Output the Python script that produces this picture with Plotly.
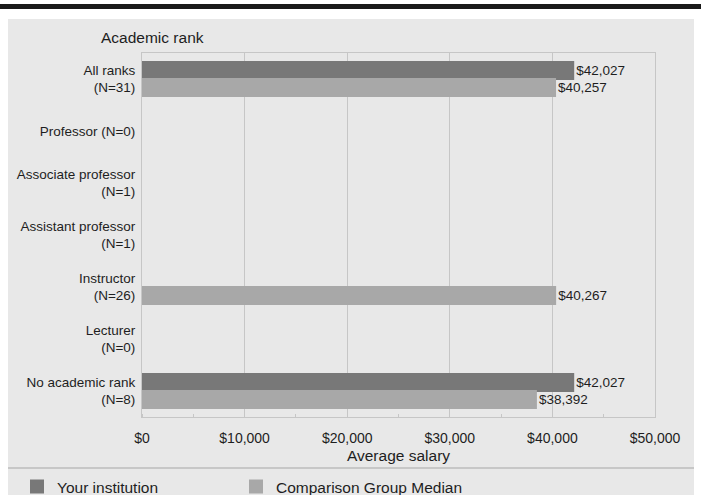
import plotly.graph_objects as go

categories = ["All ranks<br>(N=31)", "Professor (N=0)", "Associate professor<br>(N=1)",
              "Assistant professor<br>(N=1)", "Instructor<br>(N=26)", "Lecturer<br>(N=0)",
              "No academic rank<br>(N=8)"]
your_institution = [42027, None, None, None, None, None, 42027]
comparison_median = [40257, None, None, None, 40267, None, 38392]
x_ticks = [0, 10000, 20000, 30000, 40000, 50000]
x_tick_labels = ["$0", "$10,000", "$20,000", "$30,000", "$40,000", "$50,000"]

W, H = 701, 495
L, R, T, B = 142, 655, 53, 417

def px_x(p):
    return (p - L) / (R - L)

def px_y(p):
    return (B - p) / (B - T)

def fmt(v):
    return "" if v is None else "${:,.0f}".format(v)

BG = "#e8e8e8"
FONT = "Liberation Sans, Arial, sans-serif"
TXT = "#1e1e1e"
DARK = "#787878"
LIGHT = "#a8a8a8"

fig = go.Figure()
fig.add_trace(go.Bar(
    y=categories, x=your_institution, orientation="h", name="Your institution",
    marker=dict(color=DARK, line=dict(width=2, color=DARK)), legend="legend",
    text=[fmt(v) for v in your_institution], textposition="outside",
    textfont=dict(size=13.5, color=TXT), cliponaxis=False))
fig.add_trace(go.Bar(
    y=categories, x=comparison_median, orientation="h", name="Comparison Group Median",
    marker=dict(color=LIGHT, line=dict(width=2, color=LIGHT)), legend="legend2",
    text=[fmt(v) for v in comparison_median], textposition="outside",
    textfont=dict(size=13.5, color=TXT), cliponaxis=False))

shapes = [
    dict(type="rect", xref="paper", yref="paper", layer="below",
         x0=px_x(8), x1=px_x(694), y0=px_y(19), y1=px_y(500),
         fillcolor=BG, line=dict(width=0)),
    dict(type="rect", xref="paper", yref="paper",
         x0=px_x(0), x1=px_x(701), y0=px_y(9), y1=px_y(4),
         fillcolor="#1a1a1a", line=dict(width=0)),
    dict(type="line", xref="paper", yref="paper",
         x0=px_x(8), x1=px_x(694), y0=px_y(468), y1=px_y(468),
         line=dict(color="#bdbdbd", width=1.5)),
]

legend_common = dict(orientation="h", xref="container", yref="container",
                     xanchor="left", yanchor="top",
                     font=dict(size=15.5, color=TXT), bgcolor="rgba(0,0,0,0)")

fig.update_layout(
    width=W, height=H,
    margin=dict(l=L, r=W - R, t=T, b=H - B, autoexpand=False),
    paper_bgcolor="white", plot_bgcolor=BG,
    font=dict(family=FONT, size=13.5, color=TXT),
    barmode="group", bargap=0.345, bargroupgap=0,
    showlegend=True,
    legend=dict(x=17 / W, y=(H - 470) / H, **legend_common),
    legend2=dict(x=236 / W, y=(H - 470) / H, **legend_common),
    shapes=shapes,
    annotations=[dict(text="Academic rank", xref="paper", yref="paper",
                      x=px_x(99), y=px_y(38), xanchor="left", yanchor="middle",
                      showarrow=False, font=dict(size=15.5, color=TXT))],
    xaxis=dict(range=[0, 50000], tickvals=x_ticks, ticktext=x_tick_labels,
               showgrid=True, gridcolor="#c6c6c6", gridwidth=1, automargin=False,
               showline=True, linecolor="#c6c6c6", mirror=True, zeroline=False,
               ticks="", tickfont=dict(size=14), ticklabelstandoff=8,
               minor=dict(ticks="inside", ticklen=3, dtick=5000, tickcolor="#c6c6c6",
                          showgrid=False),
               title=dict(text="Average salary", font=dict(size=15.5), standoff=5)),
    yaxis=dict(autorange="reversed", showgrid=False, showline=True, linecolor="#c6c6c6",
               mirror=True, ticks="", ticklabelstandoff=3, tickfont=dict(size=13.5),
               automargin=False),
)

fig.write_html("out.html", post_script="document.body.style.margin='0';",
               config={"displayModeBar": False})
